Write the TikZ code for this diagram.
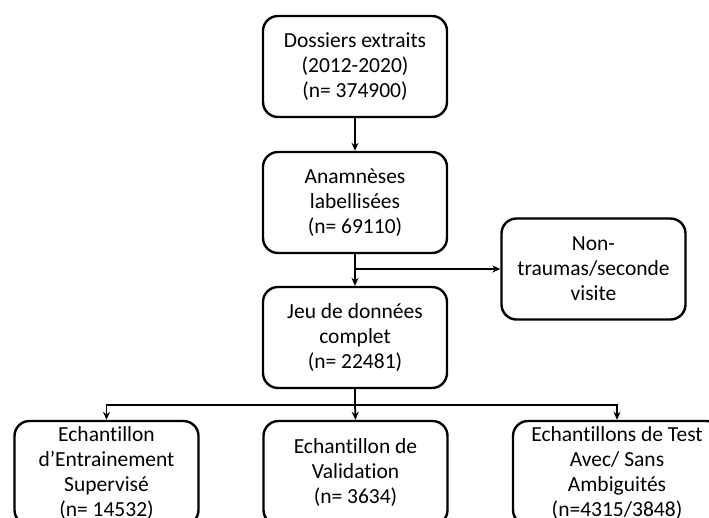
\documentclass[tikz,border=0pt]{standalone}
\usepackage{fontspec}
\setmainfont{Carlito}[Ligatures=NoCommon]
\usetikzlibrary{arrows.meta}

\begin{document}
\begin{tikzpicture}[x=1pt,y=-1pt,
    boite/.style={draw,line width=2.4pt,rounded corners=15pt,minimum width=184pt,
      minimum height=101pt,align=center,inner sep=0pt,
      font=\fontsize{21.5}{25}\selectfont},
    fleche/.style={line width=1.8pt,-{Stealth[length=8pt,width=7pt]}}]
\useasboundingbox (0,0) rectangle (709,518);
% les etapes
\node[boite] (dossiers) at (355,66.5) {Dossiers extraits\\(2012-2020)\\(n= 374900)};
\node[boite] (anamneses) at (355,202.5) {Anamnèses\\labellisées\\(n= 69110)};
\node[boite] (nontrauma) at (593.5,269) {Non-\\traumas/seconde\\visite};
\node[boite] (jeu) at (355,337.5) {Jeu de données\\complet\\(n= 22481)};
% les echantillons
\node[boite,minimum height=104pt] (entrainement) at (106.5,473) {Echantillon\\d’Entrainement\\Supervisé\\(n= 14532)};
\node[boite,minimum height=104pt] (validation) at (355.5,473) {Echantillon de\\Validation\\(n= 3634)};
\node[boite,minimum height=104pt,minimum width=208pt] (test) at (617,473) {Echantillons de Test\\Avec/ Sans\\Ambiguités\\(n=4315/3848)};
% les fleches
\draw[fleche] (dossiers) -- (anamneses);
\draw[fleche] (anamneses) -- (jeu);
\draw[fleche] (anamneses.south |- nontrauma.west) -- (nontrauma.west);
\coordinate (partage) at (355,405);
\draw[line width=1.8pt] (jeu.south) -- (partage);
\draw[fleche] (partage) -- (validation.north);
\draw[fleche] (partage) -| (entrainement.north);
\draw[fleche] (partage) -| (test.north);
\end{tikzpicture}
\end{document}
